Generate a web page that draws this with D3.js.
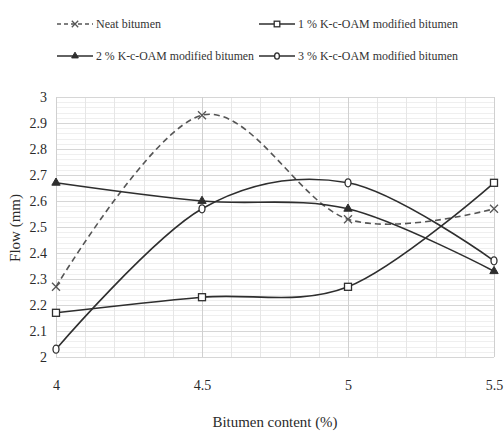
<!DOCTYPE html>
<html>
<head>
<meta charset="utf-8">
<script src="https://cdn.jsdelivr.net/npm/d3@7"></script>
<style>
  body { margin: 0; background: #fff; }
  svg { display: block; }
  svg text { font-family: "Liberation Serif", "Times New Roman", "DejaVu Serif", serif; }
</style>
</head>
<body>
<svg id="chart" width="504" height="432"></svg>
<script>
// Data
var xValues = [4, 4.5, 5, 5.5];
var neat = [2.27, 2.93, 2.53, 2.57];
var k1 = [2.17, 2.23, 2.27, 2.67];
var k2 = [2.67, 2.60, 2.57, 2.33];
var k3 = [2.03, 2.57, 2.67, 2.37];
var yTicks = [2, 2.1, 2.2, 2.3, 2.4, 2.5, 2.6, 2.7, 2.8, 2.9, 3];
var xTicks = [4, 4.5, 5, 5.5];
var names = ["Neat bitumen", "1 % K-c-OAM modified bitumen", "2 % K-c-OAM modified bitumen", "3 % K-c-OAM modified bitumen"];

var svg = d3.select("#chart");
// plot area edges ("top" is taken on window, so other names)
var pLeft = 56, pRight = 494, pTop = 97, pBottom = 357;

var x = d3.scaleLinear().domain([4, 5.5]).range([pLeft, pRight]);
var y = d3.scaleLinear().domain([2, 3]).range([pBottom, pTop]);

// grid: minor first, then major
var grid = svg.append("g");
grid.selectAll(".hmin").data(d3.range(0, 51).map(function(i) { return 2 + i * 0.02; }))
  .enter().append("line")
  .attr("x1", pLeft).attr("x2", pRight)
  .attr("y1", function(d) { return Math.round(y(d)) + 0.5; })
  .attr("y2", function(d) { return Math.round(y(d)) + 0.5; })
  .attr("stroke", "#efefef");
grid.selectAll(".vmin").data(d3.range(0, 16).map(function(i) { return 4 + i * 0.1; }))
  .enter().append("line")
  .attr("y1", pTop).attr("y2", pBottom)
  .attr("x1", function(d) { return Math.round(x(d)) + 0.5; })
  .attr("x2", function(d) { return Math.round(x(d)) + 0.5; })
  .attr("stroke", "#e6e6e6");
grid.selectAll(".hmaj").data(yTicks)
  .enter().append("line")
  .attr("x1", pLeft).attr("x2", pRight)
  .attr("y1", function(d) { return Math.round(y(d)) + 0.5; })
  .attr("y2", function(d) { return Math.round(y(d)) + 0.5; })
  .attr("stroke", "#d6d6d6");
grid.selectAll(".vmaj").data(xTicks)
  .enter().append("line")
  .attr("y1", pTop).attr("y2", pBottom)
  .attr("x1", function(d) { return Math.round(x(d)) + 0.5; })
  .attr("x2", function(d) { return Math.round(x(d)) + 0.5; })
  .attr("stroke", "#d0d0d0");

// axes
var yAxis = svg.append("g")
  .attr("transform", "translate(" + (pLeft - 9) + ",0)")
  .call(d3.axisLeft(y).tickValues(yTicks).tickSize(0).tickPadding(0).tickFormat(d3.format("")));
yAxis.select(".domain").remove();
yAxis.attr("font-family", null);
yAxis.selectAll("text").attr("font-size", 14).attr("fill", "#2a2a2a");

var xAxis = svg.append("g")
  .attr("transform", "translate(0," + (pBottom + 19) + ")")
  .call(d3.axisBottom(x).tickValues(xTicks).tickSize(0).tickPadding(4).tickFormat(d3.format("")));
xAxis.select(".domain").remove();
xAxis.attr("font-family", null);
xAxis.selectAll("text").attr("font-size", 14).attr("fill", "#2a2a2a");

svg.append("text")
  .attr("x", 275).attr("y", 427)
  .attr("text-anchor", "middle").attr("font-size", 14).attr("fill", "#2a2a2a")
  .attr("textLength", 125).attr("lengthAdjust", "spacingAndGlyphs")
  .text("Bitumen content (%)");

svg.append("text")
  .attr("transform", "translate(20,228) rotate(-90)")
  .attr("text-anchor", "middle").attr("font-size", 15).attr("fill", "#2a2a2a")
  .text("Flow (mm)");

// series
var series = [
  { name: names[0], values: neat, marker: "x", dash: "6,4", color: "#555" },
  { name: names[1], values: k1, marker: "square", dash: null, color: "#2e2e2e" },
  { name: names[2], values: k2, marker: "triangle", dash: null, color: "#2e2e2e" },
  { name: names[3], values: k3, marker: "circle", dash: null, color: "#2e2e2e" }
];

var line = d3.line()
  .x(function(d) { return x(d[0]); })
  .y(function(d) { return y(d[1]); })
  .curve(d3.curveCardinal.tension(0));

function drawMarker(g, type, cx, cy, color, sc) {
  sc = sc || 1;
  if (type === "x") {
    var r = 4 * sc;
    g.append("path").attr("d", "M" + (cx - r) + "," + (cy - r) + "L" + (cx + r) + "," + (cy + r) +
      "M" + (cx - r) + "," + (cy + r) + "L" + (cx + r) + "," + (cy - r))
      .attr("stroke", color).attr("stroke-width", 1.3).attr("fill", "none");
  } else if (type === "square") {
    var h = 3.5 * sc;
    g.append("rect").attr("x", cx - h).attr("y", cy - h).attr("width", 2 * h).attr("height", 2 * h)
      .attr("fill", "#fff").attr("stroke", color).attr("stroke-width", 1.3);
  } else if (type === "triangle") {
    g.append("path").attr("d", d3.symbol(d3.symbolTriangle, 30 * sc * sc)())
      .attr("transform", "translate(" + cx + "," + cy + ")")
      .attr("fill", color).attr("stroke", color);
  } else {
    g.append("ellipse").attr("cx", cx).attr("cy", cy).attr("rx", 3 * sc).attr("ry", 4 * sc)
      .attr("fill", "#fff").attr("stroke", color).attr("stroke-width", 1.3);
  }
}

series.forEach(function(s) {
  var pts = xValues.map(function(v, i) { return [v, s.values[i]]; });
  svg.append("path")
    .datum(pts)
    .attr("d", line)
    .attr("fill", "none")
    .attr("stroke", s.color)
    .attr("stroke-width", 1.6)
    .attr("stroke-dasharray", s.dash);
});
series.forEach(function(s) {
  var g = svg.append("g");
  xValues.forEach(function(v, i) { drawMarker(g, s.marker, x(v), y(s.values[i]), s.color); });
});

// legend
var legendPos = [[57, 24], [259, 24], [57, 56], [259, 56]];
var legendWidths = [65, 160, 158, 160];
series.forEach(function(s, i) {
  var lx = legendPos[i][0], ly = legendPos[i][1];
  var g = svg.append("g");
  g.append("line").attr("x1", lx).attr("x2", lx + 36).attr("y1", ly).attr("y2", ly)
    .attr("stroke", s.color).attr("stroke-width", 1.6).attr("stroke-dasharray", s.dash ? "4,3" : null);
  drawMarker(g, s.marker, lx + 18, ly, s.color, 0.8);
  g.append("text").attr("x", lx + 39).attr("y", ly + 4)
    .attr("font-size", 13).attr("fill", "#333")
    .attr("textLength", legendWidths[i]).attr("lengthAdjust", "spacingAndGlyphs")
    .text(s.name);
});
</script>
</body>
</html>
